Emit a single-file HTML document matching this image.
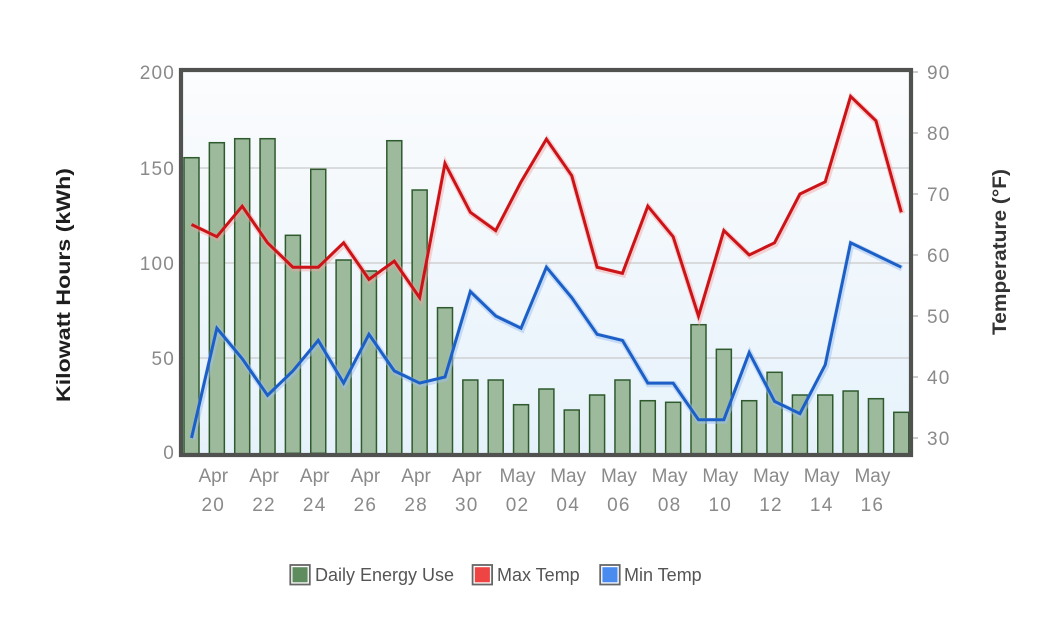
<!DOCTYPE html>
<html>
<head>
<meta charset="utf-8">
<style>
  html,body{margin:0;padding:0;background:#ffffff;}
  svg{display:block;}
  .tk{font-family:"Liberation Sans",sans-serif;font-size:19px;fill:#8a8a8a;}
  .num{letter-spacing:1.2px;}
  .lg{font-family:"Liberation Sans",sans-serif;font-size:18px;fill:#555;}
</style>
</head>
<body>
<svg width="1063" height="630" viewBox="0 0 1063 630" xmlns="http://www.w3.org/2000/svg">
  <defs>
    <linearGradient id="bg" x1="0" y1="0" x2="0" y2="1">
      <stop offset="0" stop-color="#fbfcfd"/>
      <stop offset="1" stop-color="#e6f2fb"/>
    </linearGradient>
    <clipPath id="pc"><rect x="183" y="72" width="726" height="381"/></clipPath>
  </defs>

  <!-- plot background -->
  <rect x="183" y="72" width="726" height="381" fill="url(#bg)"/>

  <!-- grid lines -->
  <g stroke="#c9c9c9" stroke-width="1.2">
    <line x1="183" y1="168" x2="909" y2="168"/>
    <line x1="183" y1="263" x2="909" y2="263"/>
    <line x1="183" y1="358" x2="909" y2="358"/>
  </g>

  <!-- bars -->
  <g fill="#9dba9c" stroke="#2e5a2e" stroke-width="1.5" clip-path="url(#pc)">
    <rect x="184" y="157.7" width="15" height="296"/>
    <rect x="209.35" y="142.7" width="15" height="311"/>
    <rect x="234.7" y="138.7" width="15" height="315"/>
    <rect x="260.05" y="138.7" width="15" height="315"/>
    <rect x="285.4" y="235.3" width="15" height="218"/>
    <rect x="310.75" y="169.3" width="15" height="284"/>
    <rect x="336.1" y="260" width="15" height="194"/>
    <rect x="361.45" y="271" width="15" height="183"/>
    <rect x="386.8" y="140.7" width="15" height="313"/>
    <rect x="412.15" y="190" width="15" height="264"/>
    <rect x="437.5" y="307.7" width="15" height="146"/>
    <rect x="462.85" y="380" width="15" height="74"/>
    <rect x="488.2" y="380" width="15" height="74"/>
    <rect x="513.55" y="404.7" width="15" height="49"/>
    <rect x="538.9" y="389" width="15" height="65"/>
    <rect x="564.25" y="410" width="15" height="44"/>
    <rect x="589.6" y="395" width="15" height="59"/>
    <rect x="614.95" y="380" width="15" height="74"/>
    <rect x="640.3" y="400.7" width="15" height="53"/>
    <rect x="665.65" y="402.3" width="15" height="52"/>
    <rect x="691" y="324.7" width="15" height="129"/>
    <rect x="716.35" y="349.3" width="15" height="105"/>
    <rect x="741.7" y="400.7" width="15" height="53"/>
    <rect x="767.05" y="372.3" width="15" height="82"/>
    <rect x="792.4" y="395" width="15" height="59"/>
    <rect x="817.75" y="395" width="15" height="59"/>
    <rect x="843.1" y="391" width="15" height="63"/>
    <rect x="868.45" y="398.7" width="15" height="55"/>
    <rect x="893.8" y="412.3" width="15" height="42"/>
  </g>

  <!-- max temp line -->
  <g clip-path="url(#pc)" fill="none" stroke-linejoin="miter" stroke-linecap="butt">
    <polyline stroke="#f3a0a0" stroke-opacity="0.45" stroke-width="6" transform="translate(0.8,1.2)"
      points="191.5,224.5 216.85,236.7 242.2,206.2 267.55,242.8 292.9,267.2 318.25,267.2 343.6,242.8 368.95,279.4 394.3,261.1 419.65,297.7 445,163.5 470.35,212.3 495.7,230.6 521.05,181.8 546.4,139.1 571.75,175.7 597.1,267.2 622.45,273.3 647.8,206.2 673.15,236.7 698.5,316 723.85,230.6 749.2,255 774.55,242.8 799.9,194 825.25,181.8 850.6,96.4 875.95,120.8 901.3,212.3"/>
    <polyline stroke="#cc1418" stroke-width="3"
      points="191.5,224.5 216.85,236.7 242.2,206.2 267.55,242.8 292.9,267.2 318.25,267.2 343.6,242.8 368.95,279.4 394.3,261.1 419.65,297.7 445,163.5 470.35,212.3 495.7,230.6 521.05,181.8 546.4,139.1 571.75,175.7 597.1,267.2 622.45,273.3 647.8,206.2 673.15,236.7 698.5,316 723.85,230.6 749.2,255 774.55,242.8 799.9,194 825.25,181.8 850.6,96.4 875.95,120.8 901.3,212.3"/>
  </g>

  <!-- min temp line -->
  <g clip-path="url(#pc)" fill="none" stroke-linejoin="miter" stroke-linecap="butt">
    <polyline stroke="#9cc0f0" stroke-opacity="0.5" stroke-width="6" transform="translate(0.8,1.2)"
      points="191.5,438 216.85,328.2 242.2,358.7 267.55,395.3 292.9,370.9 318.25,340.4 343.6,383.1 368.95,334.3 394.3,370.9 419.65,383.1 445,377 470.35,291.6 495.7,316 521.05,328.2 546.4,267.2 571.75,297.7 597.1,334.3 622.45,340.4 647.8,383.1 673.15,383.1 698.5,419.7 723.85,419.7 749.2,352.6 774.55,401.4 799.9,413.6 825.25,364.8 850.6,242.8 875.95,255 901.3,267.2"/>
    <polyline stroke="#1c5fc6" stroke-width="3"
      points="191.5,438 216.85,328.2 242.2,358.7 267.55,395.3 292.9,370.9 318.25,340.4 343.6,383.1 368.95,334.3 394.3,370.9 419.65,383.1 445,377 470.35,291.6 495.7,316 521.05,328.2 546.4,267.2 571.75,297.7 597.1,334.3 622.45,340.4 647.8,383.1 673.15,383.1 698.5,419.7 723.85,419.7 749.2,352.6 774.55,401.4 799.9,413.6 825.25,364.8 850.6,242.8 875.95,255 901.3,267.2"/>
  </g>

  <!-- frame -->
  <rect x="181" y="70" width="730" height="385" fill="none" stroke="#505250" stroke-width="4.2"/>

  <!-- right ticks -->
  <g stroke="#aaaaaa" stroke-width="1.2">
    <line x1="913" y1="72" x2="918" y2="72"/>
    <line x1="913" y1="133" x2="918" y2="133"/>
    <line x1="913" y1="194" x2="918" y2="194"/>
    <line x1="913" y1="255" x2="918" y2="255"/>
    <line x1="913" y1="316" x2="918" y2="316"/>
    <line x1="913" y1="377" x2="918" y2="377"/>
    <line x1="913" y1="438" x2="918" y2="438"/>
  </g>

  <!-- left axis labels -->
  <g class="tk num" text-anchor="end">
    <text x="175" y="79">200</text>
    <text x="175" y="175">150</text>
    <text x="175" y="270">100</text>
    <text x="175" y="365">50</text>
    <text x="175" y="459">0</text>
  </g>

  <!-- right axis labels -->
  <g class="tk num" text-anchor="start">
    <text x="927" y="79">90</text>
    <text x="927" y="140">80</text>
    <text x="927" y="201">70</text>
    <text x="927" y="262">60</text>
    <text x="927" y="323">50</text>
    <text x="927" y="384">40</text>
    <text x="927" y="445">30</text>
  </g>

  <!-- x labels -->
  <g class="tk" text-anchor="middle">
    <text x="213.3" y="482">Apr</text><text class="num" x="213.3" y="511">20</text>
    <text x="264" y="482">Apr</text><text class="num" x="264" y="511">22</text>
    <text x="314.7" y="482">Apr</text><text class="num" x="314.7" y="511">24</text>
    <text x="365.4" y="482">Apr</text><text class="num" x="365.4" y="511">26</text>
    <text x="416.1" y="482">Apr</text><text class="num" x="416.1" y="511">28</text>
    <text x="466.8" y="482">Apr</text><text class="num" x="466.8" y="511">30</text>
    <text x="517.5" y="482">May</text><text class="num" x="517.5" y="511">02</text>
    <text x="568.2" y="482">May</text><text class="num" x="568.2" y="511">04</text>
    <text x="618.9" y="482">May</text><text class="num" x="618.9" y="511">06</text>
    <text x="669.6" y="482">May</text><text class="num" x="669.6" y="511">08</text>
    <text x="720.3" y="482">May</text><text class="num" x="720.3" y="511">10</text>
    <text x="771" y="482">May</text><text class="num" x="771" y="511">12</text>
    <text x="821.7" y="482">May</text><text class="num" x="821.7" y="511">14</text>
    <text x="872.4" y="482">May</text><text class="num" x="872.4" y="511">16</text>
  </g>

  <!-- axis titles -->
  <text transform="translate(70,285) rotate(-90)" text-anchor="middle"
        font-family="'Liberation Sans',sans-serif" font-weight="bold" font-size="19" fill="#1e1e1e"
        textLength="234" lengthAdjust="spacingAndGlyphs">Kilowatt Hours (kWh)</text>
  <text transform="translate(1006,252) rotate(-90)" text-anchor="middle"
        font-family="'Liberation Sans',sans-serif" font-weight="bold" font-size="19" fill="#333333"
        textLength="166" lengthAdjust="spacingAndGlyphs">Temperature (°F)</text>

  <!-- legend -->
  <g>
    <rect x="290.3" y="565" width="19.5" height="19.5" fill="#ffffff" stroke="#666" stroke-width="1.8"/>
    <rect x="292.5" y="567.2" width="15.1" height="15.1" fill="#5e8c5e"/>
    <text class="lg" x="315" y="581">Daily Energy Use</text>

    <rect x="472.6" y="565" width="19.5" height="19.5" fill="#ffffff" stroke="#666" stroke-width="1.8"/>
    <rect x="474.8" y="567.2" width="15.1" height="15.1" fill="#ef4444"/>
    <text class="lg" x="497" y="581">Max Temp</text>

    <rect x="600.2" y="565" width="19.5" height="19.5" fill="#ffffff" stroke="#666" stroke-width="1.8"/>
    <rect x="602.4" y="567.2" width="15.1" height="15.1" fill="#4a8bef"/>
    <text class="lg" x="624" y="581">Min Temp</text>
  </g>
</svg>
</body>
</html>
